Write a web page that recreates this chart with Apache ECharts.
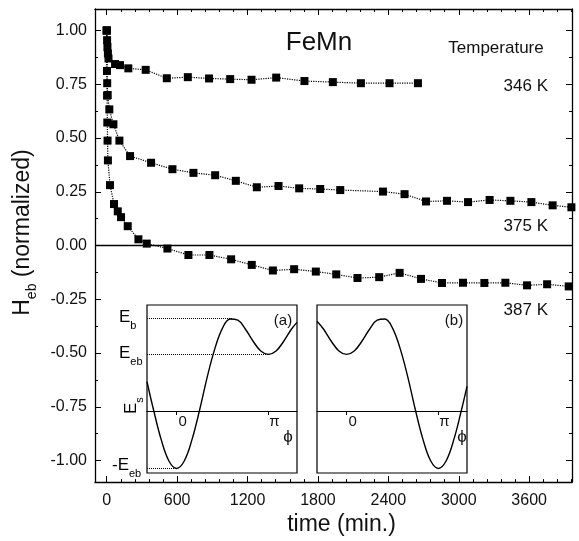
<!DOCTYPE html>
<html>
<head>
<meta charset="utf-8">
<script src="https://cdn.jsdelivr.net/npm/echarts@6/dist/echarts.min.js"></script>
<style>
  html, body { margin: 0; background: #fff; }
  #chart { width: 579px; height: 541px; }
</style>
</head>
<body>
<div id="chart"></div>
<script>
// time (min.) and normalized H_eb per temperature
const t346 = [0, 3, 6, 10, 15, 71, 113, 184, 332, 512, 691, 872, 1052, 1234, 1444, 1685, 1927, 2166, 2410, 2652]
const h346 = [1.00, 0.955, 0.923, 0.893, 0.870, 0.844, 0.839, 0.824, 0.817, 0.778, 0.783, 0.777, 0.774, 0.771, 0.781, 0.765, 0.760, 0.755, 0.755, 0.755]

const t375 = [0, 2, 4, 8, 22, 57, 108, 199, 378, 560, 739, 924, 1100, 1279, 1464, 1640, 1819, 1990, 2354, 2538, 2721, 2900, 3079, 3263, 3440, 3619, 3800, 3960]
const h375 = [1.00, 0.812, 0.755, 0.700, 0.633, 0.564, 0.488, 0.416, 0.385, 0.355, 0.338, 0.327, 0.301, 0.271, 0.277, 0.266, 0.263, 0.258, 0.251, 0.239, 0.205, 0.208, 0.202, 0.212, 0.208, 0.202, 0.187, 0.178]

const t387 = [0, 3, 5, 7, 10, 28, 62, 94, 122, 179, 270, 341, 517, 696, 875, 1060, 1236, 1416, 1597, 1782, 1956, 2137, 2322, 2496, 2678, 2857, 3036, 3218, 3397, 3582, 3753, 3937]
const h387 = [1.00, 0.697, 0.572, 0.488, 0.396, 0.281, 0.193, 0.159, 0.132, 0.090, 0.029, 0.009, -0.014, -0.044, -0.044, -0.064, -0.090, -0.116, -0.110, -0.121, -0.134, -0.151, -0.147, -0.127, -0.155, -0.174, -0.173, -0.174, -0.173, -0.185, -0.180, -0.190]

// inset sketches: energy vs phi (degrees), in units of E_eb
const phi = [-58, -45, -30, -15, 0, 15, 30, 45, 60, 75, 90, 105, 120, 135, 150, 165, 180, 195, 210, 225, 236]
const energyA = [0.52, 0.02, -0.50, -0.87, -1.00, -0.87, -0.50, 0.02, 0.60, 1.10, 1.46, 1.62, 1.60, 1.44, 1.23, 1.06, 1.00, 1.06, 1.23, 1.44, 1.56]
const energyB = [1.58, 1.44, 1.23, 1.06, 1.00, 1.06, 1.23, 1.44, 1.60, 1.62, 1.46, 1.10, 0.60, 0.02, -0.50, -0.87, -1.00, -0.87, -0.50, 0.02, 0.44]
const levelEb = 1.63
const levelEeb = 1.0

// tick labels
const xMajor = [0, 600, 1200, 1800, 2400, 3000, 3600]
const yMajor = [-1.0, -0.75, -0.5, -0.25, 0, 0.25, 0.5, 0.75, 1.0]
const phiTicks = [0, 180]

const xMinor = []
for (let v = 0; v <= 3960; v += 120) xMinor.push(v)
const yMinor = [-0.875, -0.625, -0.375, -0.125, 0.125, 0.375, 0.625, 0.875]

const FONT = "'Liberation Sans', Arial, sans-serif"
const BLACK = '#000'

const pairs = (xs, ys) => xs.map((x, i) => [x, ys[i]])

const chart = echarts.init(document.getElementById('chart'))

const mainX = (position, values, len, withLabel) => ({
  gridIndex: 0,
  type: 'value',
  min: -100,
  max: 3965,
  position,
  axisLine: { show: withLabel !== null, onZero: false, lineStyle: { color: BLACK, width: 1.3 } },
  axisTick: { inside: true, length: len, customValues: values, lineStyle: { color: BLACK, width: 1 } },
  axisLabel: withLabel
    ? { customValues: values, margin: 10, color: '#111', fontSize: 16, fontFamily: FONT,
        formatter: v => String(v) }
    : { show: false },
  splitLine: { show: false }
})

const mainY = (position, values, len, withLabel) => ({
  gridIndex: 0,
  type: 'value',
  min: -1.1,
  max: 1.1,
  position,
  axisLine: { show: withLabel !== null, onZero: false, lineStyle: { color: BLACK, width: 1.3 } },
  axisTick: { inside: true, length: len, customValues: values, lineStyle: { color: BLACK, width: 1 } },
  axisLabel: withLabel
    ? { customValues: values, margin: 8, color: '#111', fontSize: 16, fontFamily: FONT,
        formatter: v => v.toFixed(2) }
    : { show: false },
  splitLine: { show: false }
})

// inset phi axis sits on the E = 0 level of the sketch (offset pulls it up from the box bottom)
const insetX = (grid, min, max) => ({
  gridIndex: grid,
  type: 'value',
  min,
  max,
  offset: -62,
  axisLine: { onZero: false, lineStyle: { color: BLACK, width: 1.2 } },
  axisTick: { inside: false, length: 4, customValues: phiTicks, lineStyle: { color: BLACK } },
  axisLabel: {
    customValues: phiTicks,
    margin: 3,
    padding: [0, 0, 0, 12],
    color: '#111',
    fontSize: 15,
    fontFamily: FONT,
    formatter: v => (v === 0 ? '0' : 'π')
  },
  splitLine: { show: false }
})

const insetY = grid => ({
  gridIndex: grid,
  type: 'value',
  min: -1.08,
  max: 1.865,
  show: false
})

const dataSeries = (name, xs, ys) => ({
  name,
  type: 'line',
  xAxisIndex: 0,
  yAxisIndex: 0,
  data: pairs(xs, ys),
  symbol: 'rect',
  symbolSize: 8,
  itemStyle: { color: BLACK },
  lineStyle: { color: BLACK, width: 1.2, type: 'dotted' }
})

const subText = (main, sub) => `{m|${main}}{s|${sub}}`
const subRich = size => ({
  m: { fontSize: size, fontFamily: FONT, color: '#111', verticalAlign: 'bottom', padding: [0, 0, 5, 0] },
  s: { fontSize: Math.round(size * 0.62), fontFamily: FONT, color: '#111', verticalAlign: 'bottom' }
})

const label = (text, x, y, size, align) => ({
  type: 'text',
  x,
  y,
  style: {
    text,
    fill: '#111',
    font: `${size}px ${FONT}`,
    textAlign: align,
    textVerticalAlign: 'middle'
  }
})

const richLabel = (main, sub, x, y, size, rotation) => ({
  type: 'text',
  x,
  y,
  rotation: rotation || 0,
  style: {
    text: subText(main, sub),
    rich: subRich(size),
    textAlign: 'left',
    textVerticalAlign: 'middle'
  }
})

const option = {
  backgroundColor: '#fff',
  animation: false,
  grid: [
    { left: 95, right: 7, top: 9, bottom: 53 },
    { left: 147, top: 305, width: 150, height: 168, show: true, backgroundColor: '#fff', borderColor: BLACK, borderWidth: 1.2 },
    { left: 317, top: 305, width: 150, height: 168, show: true, backgroundColor: '#fff', borderColor: BLACK, borderWidth: 1.2 }
  ],
  xAxis: [
    Object.assign(mainX('bottom', xMajor, 6, true), {
      name: 'time (min.)',
      nameLocation: 'middle',
      nameGap: 30,
      nameTextStyle: { fontSize: 23, color: '#111', fontFamily: FONT, padding: [0, 0, 0, 16] }
    }),
    mainX('bottom', xMinor, 3, null),
    mainX('top', xMajor, 6, false),
    mainX('top', xMinor, 3, null),
    insetX(1, -58, 236),
    insetX(2, -58, 236)
  ],
  yAxis: [
    Object.assign(mainY('left', yMajor, 6, true), {
      name: '{m|H}{s|eb}{m| (normalized)}',
      nameLocation: 'middle',
      nameRotate: 90,
      nameGap: 55,
      nameTextStyle: { rich: subRich(23), padding: [0, 0, 0, 26] }
    }),
    mainY('left', yMinor, 3, null),
    mainY('right', yMajor, 6, false),
    mainY('right', yMinor, 3, null),
    insetY(1),
    insetY(2)
  ],
  series: [
    dataSeries('346 K', t346, h346),
    dataSeries('375 K', t375, h375),
    Object.assign(dataSeries('387 K', t387, h387), {
      markLine: {
        silent: true,
        symbol: ['none', 'none'],
        label: { show: false },
        lineStyle: { color: BLACK, type: 'solid', width: 1.3 },
        data: [{ yAxis: 0 }]
      }
    }),
    {
      name: 'inset a',
      type: 'line',
      xAxisIndex: 4,
      yAxisIndex: 4,
      data: pairs(phi, energyA),
      smooth: 0.4,
      showSymbol: false,
      lineStyle: { color: BLACK, width: 1.4 },
      markLine: {
        silent: true,
        symbol: ['none', 'none'],
        label: { show: false },
        lineStyle: { color: BLACK, type: 'dotted', width: 1 },
        data: [
          [{ coord: [-58, levelEb] }, { coord: [110, levelEb] }],
          [{ coord: [-58, levelEeb] }, { coord: [182, levelEeb] }],
          [{ coord: [-58, -levelEeb] }, { coord: [0, -levelEeb] }]
        ]
      }
    },
    {
      name: 'inset b',
      type: 'line',
      xAxisIndex: 5,
      yAxisIndex: 5,
      data: pairs(phi, energyB),
      smooth: 0.4,
      showSymbol: false,
      lineStyle: { color: BLACK, width: 1.4 }
    }
  ],
  graphic: [
    label('FeMn', 319, 43, 26, 'center'),
    label('Temperature', 496, 48, 17, 'center'),
    label('346 K', 548, 86, 17, 'right'),
    label('375 K', 548, 226, 17, 'right'),
    label('387 K', 548, 310, 17, 'right'),
    label('(a)', 283, 321, 15, 'center'),
    label('(b)', 454, 321, 15, 'center'),
    label('ϕ', 288, 437, 17, 'center'),
    label('ϕ', 462, 437, 17, 'center'),
    richLabel('E', 'b', 119, 320, 17),
    richLabel('E', 'eb', 119, 356, 17),
    richLabel('-E', 'eb', 112, 468, 17),
    richLabel('E', 's', 134, 414, 17, Math.PI / 2)
  ]
}

chart.setOption(option)
</script>
</body>
</html>
